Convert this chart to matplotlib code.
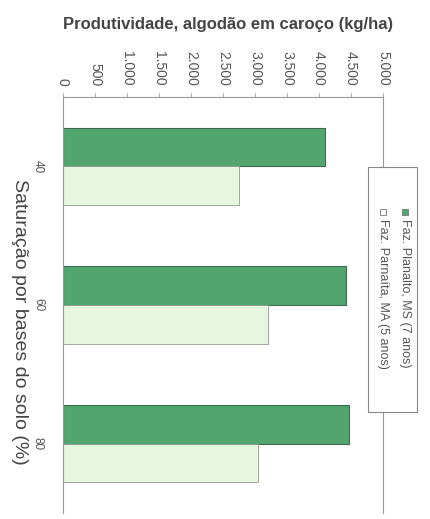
import numpy as np
import matplotlib
matplotlib.use("Agg")
import matplotlib.pyplot as plt
from matplotlib.patches import Rectangle
from matplotlib.ticker import FuncFormatter

plt.rcParams['font.family'] = ['Liberation Sans', 'DejaVu Sans']

saturacao = ['40', '60', '80']
planalto_ms = [4100, 4420, 4470]
parnaita_ma = [2750, 3200, 3050]
x_ticks = [0, 500, 1000, 1500, 2000, 2500, 3000, 3500, 4000, 4500, 5000]
serie_names = ['Faz. Planalto, MS (7 anos)', 'Faz. Parnaíta, MA (5 anos)']

dark = '#52a56f'
dark_edge = '#3a6e4c'
light = '#e7f7df'
light_edge = '#8e9c8e'

W, H = 431, 519
fig = plt.figure(figsize=(W / 100, H / 100), dpi=100)
ax = fig.add_axes([63 / W, 1 - 513 / H, 320 / W, 416 / H])

y = np.arange(len(saturacao))
bh = 0.28
ax.barh(y - bh / 2, planalto_ms, height=bh, color=dark, edgecolor=dark_edge, linewidth=0.8)
ax.barh(y + bh / 2, parnaita_ma, height=bh, color=light, edgecolor=light_edge, linewidth=0.6)

ax.set_xlim(0, 5000)
ax.set_ylim(len(saturacao) - 0.5, -0.5)

ax.xaxis.tick_top()
ax.set_xticks(x_ticks)
ax.xaxis.set_major_formatter(FuncFormatter(lambda v, p: f"{int(v):,}".replace(",", ".")))
for lbl in ax.get_xticklabels():
    lbl.set_rotation(-90)
    lbl.set_va('bottom')
    lbl.set_ha('center')
ax.tick_params(axis='x', length=3, width=0.6, color='#999999', pad=5,
               labelsize=10, labelcolor='#555555')

ax.set_yticks(y)
ax.set_yticklabels(saturacao, rotation=-90, va='center', ha='center')
ax.tick_params(axis='y', length=0, pad=18, labelsize=8.5, labelcolor='#555555')

for side in ['left', 'top', 'right']:
    ax.spines[side].set_color('#999999')
    ax.spines[side].set_linewidth(0.8)
ax.spines['bottom'].set_visible(False)

fig.text(19 / W, 1 - 322 / H, 'Saturação por bases do solo (%)', rotation=-90,
         ha='center', va='center', fontsize=14, color='#444444')
fig.text(228 / W, 1 - 24 / H, 'Produtividade, algodão em caroço (kg/ha)',
         ha='center', va='center', fontsize=12, fontweight='bold', color='#444444')

# legend drawn by hand, rotated like the rest of the chart
fig.patches.append(Rectangle((368 / W, 1 - 412 / H), 49 / W, 245 / H, transform=fig.transFigure,
                             facecolor='white', edgecolor='#888888', linewidth=0.8, zorder=5))
leg_x = [405, 383]
leg_fc = [dark, 'white']
for name, xc, fc in zip(serie_names, leg_x, leg_fc):
    fig.patches.append(Rectangle(((xc - 3) / W, 1 - 215 / H), 6 / W, 6 / H, transform=fig.transFigure,
                                 facecolor=fc, edgecolor='#777777', linewidth=0.6, zorder=6))
    fig.text(xc / W, 1 - 219 / H, name, rotation=-90, ha='center', va='top',
             fontsize=9, color='#555555', zorder=7)

fig.savefig('out.png', dpi=100)
